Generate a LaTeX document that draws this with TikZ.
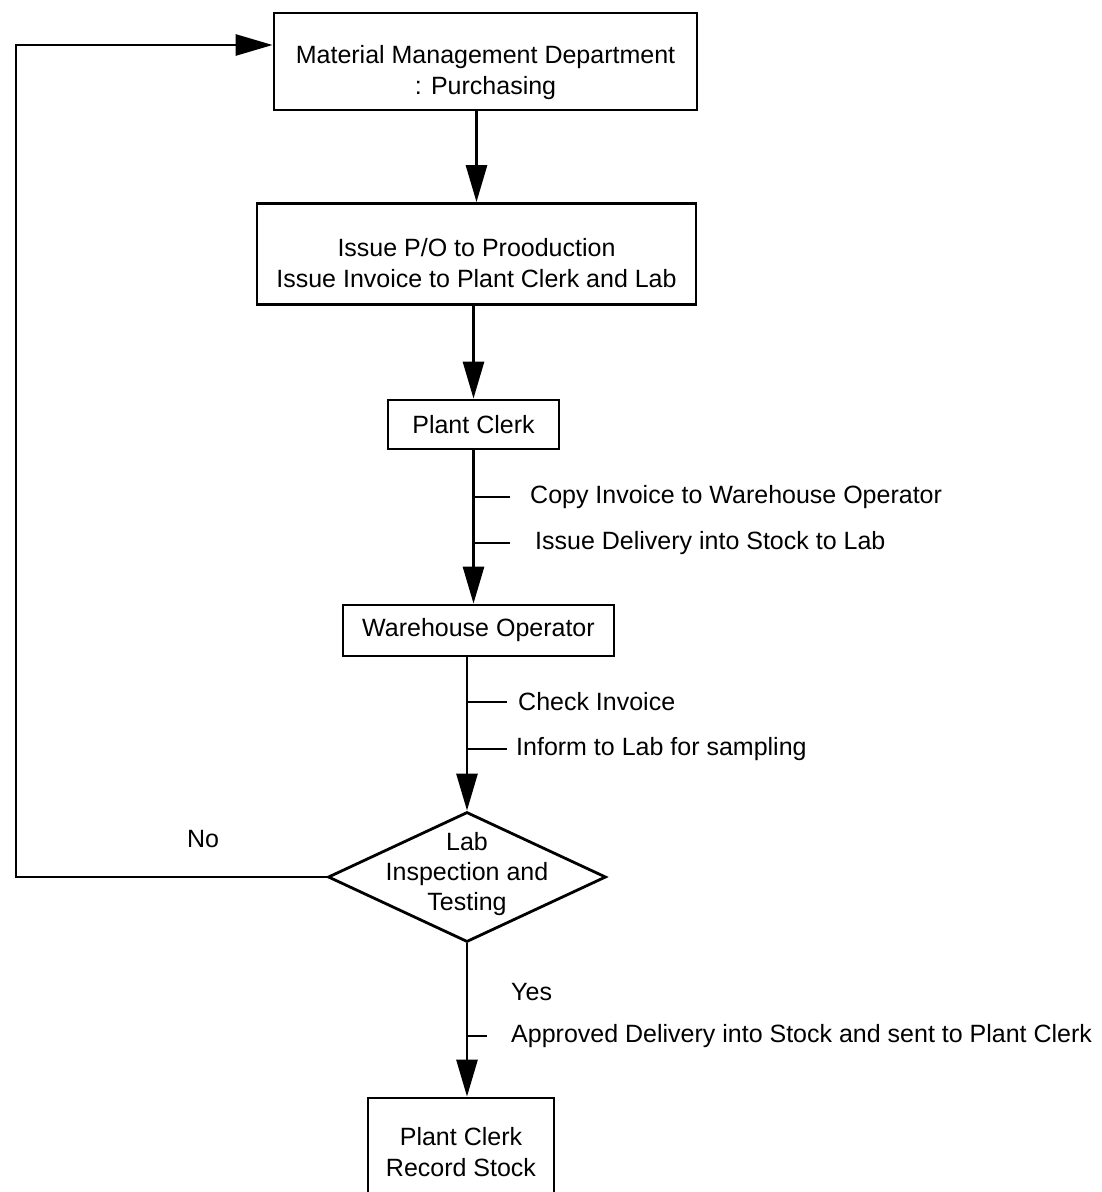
\documentclass[tikz,border=0pt]{standalone}
\usepackage{fontspec}
\setmainfont{Liberation Sans}
\usetikzlibrary{arrows.meta,shapes.geometric}
\begin{document}
\begin{tikzpicture}[x=1pt,y=-1pt,
  every node/.style={font=\fontsize{25pt}{31pt}\selectfont, inner sep=0pt},
  box/.style={draw, line width=2.8pt, rectangle, align=center},
  dec/.style={draw, line width=2.8pt, diamond},
  flow/.style={line width=2.8pt, -{Triangle[length=37pt,width=21pt]}},
  plain/.style={line width=2.8pt},
  lbl/.style={anchor=west}
]
\clip (0,0) rectangle (1101,1192);
\fill[white] (0,0) rectangle (1101,1192);

% nodes
\node[box, minimum width=423pt, minimum height=97pt, text height=71pt] (mm) at (485.5,61.5)
  {Material Management Department\\: Purchasing};
\node[box, minimum width=439pt, minimum height=101pt, text height=68pt] (po) at (476.5,254)
  {Issue P/O to Prooduction\\Issue Invoice to Plant Clerk and Lab};
\node[box, minimum width=171pt, minimum height=49pt] (pc) at (473.5,424.5)
  {Plant Clerk};
\node[box, minimum width=271pt, minimum height=51pt] (wo) at (478.5,630.5)
  {Warehouse Operator};
\node[dec, minimum width=278pt, minimum height=130pt] (lab) at (467,877) {};
\node[align=center, font=\fontsize{25pt}{30pt}\selectfont] (labtxt) at (467,874)
  {Lab\\Inspection and\\Testing};
\node[box, minimum width=186pt, minimum height=108pt] (rs) at (461,1152)
  {Plant Clerk\\Record Stock};

% helper coordinates
\coordinate (lt) at (16,45);
\coordinate (t1) at (510,497);
\coordinate (t2) at (510,543);
\coordinate (t3) at (507,702);
\coordinate (t4) at (507,749);
\coordinate (t5) at (487,1036);

% connectors
\draw[flow] (mm.south -| po.north) -- (po.north);
\draw[flow] (po.south -| pc.north) -- (pc.north);
\draw[flow] (pc.south) -- (pc.south |- wo.north);
\draw[flow] (wo.south -| lab.north) -- (lab.north);
\draw[flow] (lab.south) -- (lab.south |- rs.north);
\draw[flow] (lab.west) -- (lab.west -| lt) -- (lt) -- (lt -| mm.west);

% ticks
\draw[plain] (pc.south |- t1) -- (t1);
\draw[plain] (pc.south |- t2) -- (t2);
\draw[plain] (lab.north |- t3) -- (t3);
\draw[plain] (lab.north |- t4) -- (t4);
\draw[plain] (lab.south |- t5) -- (t5);

% labels
\node[lbl] (l1) at (530,497) {Copy Invoice to Warehouse Operator};
\node[lbl] (l2) at (535,543) {Issue Delivery into Stock to Lab};
\node[lbl] (l3) at (518,702) {Check Invoice};
\node[lbl] (l4) at (516,749) {Inform to Lab for sampling};
\node (no) at (203,839) {No};
\node[lbl] (yes) at (511,992) {Yes};
\node[lbl] (l5) at (511,1036) {Approved Delivery into Stock and sent to Plant Clerk};
\end{tikzpicture}
\end{document}
